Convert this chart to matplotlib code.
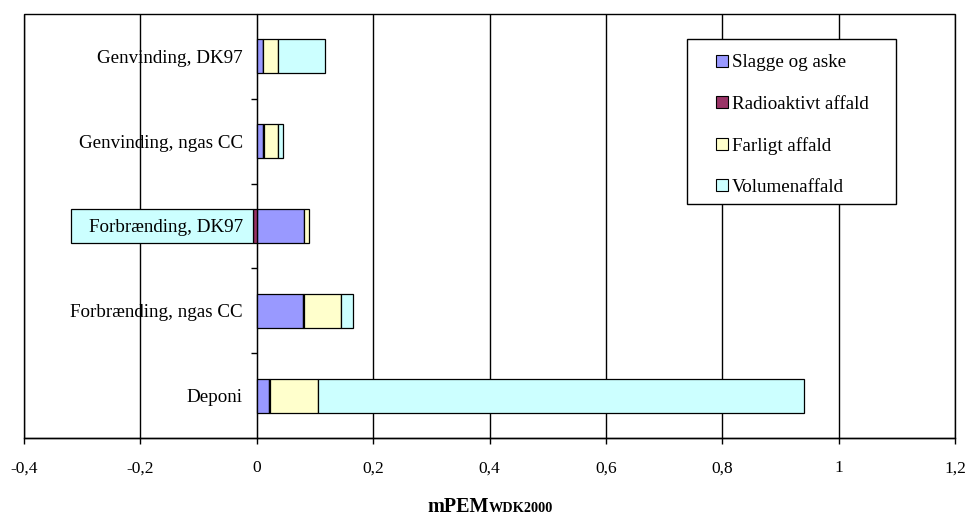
import matplotlib
matplotlib.use("Agg")
import matplotlib.pyplot as plt
import numpy as np
from matplotlib.patches import Rectangle
from matplotlib.lines import Line2D
from matplotlib.ticker import FixedLocator, FuncFormatter

plt.rcParams['font.family'] = ['Liberation Serif', 'DejaVu Serif']

categories = ["Genvinding, DK97", "Genvinding, ngas CC", "Forbrænding, DK97",
              "Forbrænding, ngas CC", "Deponi"]
series_names = ["Slagge og aske", "Radioaktivt affald", "Farligt affald", "Volumenaffald"]
slagge = [0.010, 0.011, 0.081, 0.080, 0.021]
radioaktivt = [0.001, 0.001, -0.006, 0.0005, 0.0015]
farligt = [0.026, 0.025, 0.009, 0.064, 0.0825]
volumen = [0.081, 0.0075, -0.313, 0.0215, 0.835]
colors = ["#9999FF", "#993366", "#FFFFCC", "#CCFFFF"]
x_ticks = [-0.4, -0.2, 0, 0.2, 0.4, 0.6, 0.8, 1.0, 1.2]

fig = plt.figure(figsize=(9.66, 5.17), dpi=100)
ax = fig.add_axes([24 / 966, 79 / 517, 931 / 966, 424 / 517])

y = np.arange(len(categories))
pos_cum = np.zeros(len(categories))
neg_cum = np.zeros(len(categories))
for name, vals, col in zip(series_names, [slagge, radioaktivt, farligt, volumen], colors):
    vals = np.array(vals)
    left = np.where(vals >= 0, pos_cum, neg_cum)
    ax.barh(y, vals, left=left, height=0.4, color=col, edgecolor='black',
            linewidth=0.9, zorder=2)
    pos_cum += np.where(vals >= 0, vals, 0)
    neg_cum += np.where(vals < 0, vals, 0)

ax.set_xlim(x_ticks[0], x_ticks[-1])
ax.set_ylim(len(categories) - 0.5, -0.5)

# vertical gridlines behind the bars
ax.vlines(x_ticks, 0, 1, transform=ax.get_xaxis_transform(), colors='black',
          linewidth=1.0, zorder=0.5)

ax.xaxis.set_major_locator(FixedLocator(x_ticks))
ax.xaxis.set_major_formatter(FuncFormatter(lambda v, p: f"{v:g}".replace('.', ',')))
ax.tick_params(axis='x', which='major', direction='out', length=4, width=1,
               labelsize=12.5, pad=12)

# category axis sits at x = 0
for s in ['left', 'right', 'top']:
    ax.spines[s].set_visible(False)
ax.spines['left'].set_visible(True)
ax.spines['left'].set_position(('data', 0))
ax.spines['left'].set_zorder(3)
ax.spines['bottom'].set_linewidth(1.0)
ax.set_yticks(y)
ax.set_yticklabels(categories)
ax.yaxis.set_minor_locator(FixedLocator(np.arange(0.5, len(categories) - 0.5, 1)))
ax.tick_params(axis='y', which='major', length=0, labelsize=13.7, pad=10)
ax.tick_params(axis='y', which='minor', direction='out', length=4, width=1)
ax.yaxis.set_zorder(4)

# plot area frame
ax.add_patch(Rectangle((0, 0), 1, 1, transform=ax.transAxes, fill=False,
                       edgecolor='black', linewidth=1.0, zorder=3, clip_on=False))

# legend
handles = [Line2D([], [], linestyle='none', marker='s', markersize=8,
                  markerfacecolor=c, markeredgecolor='black', markeredgewidth=0.8)
           for c in colors]
leg = ax.legend(handles, series_names, loc='center left',
                bbox_to_anchor=((716 - 24) / 931, (438 - 125) / 424),
                frameon=False, fontsize=13.7, borderpad=0, handlelength=0.6,
                handletextpad=0.25, labelspacing=1.26, borderaxespad=0)
leg.set_zorder(5)
ax.add_patch(Rectangle(((686.7 - 24) / 931, (438 - 204) / 424),
                       (896 - 686.7) / 931, (204 - 39.3) / 424,
                       transform=ax.transAxes, facecolor='white', edgecolor='black',
                       linewidth=1.0, zorder=3.5))

# axis title with subscript, both parts on the same baseline
renderer = fig.canvas.get_renderer()
main = fig.text(0, 0, "mPEM", fontsize=14.5, fontweight='bold', va='baseline')
sub = fig.text(0, 0, "WDK2000", fontsize=10.3, fontweight='bold', va='baseline')
w_main = main.get_window_extent(renderer).width
w_sub = sub.get_window_extent(renderer).width
x0 = 490 - (w_main + w_sub) / 2
base = 517 - 512
main.set_position((x0 / 966, base / 517))
sub.set_position(((x0 + w_main) / 966, base / 517))

fig.savefig("out.png", dpi=100)
